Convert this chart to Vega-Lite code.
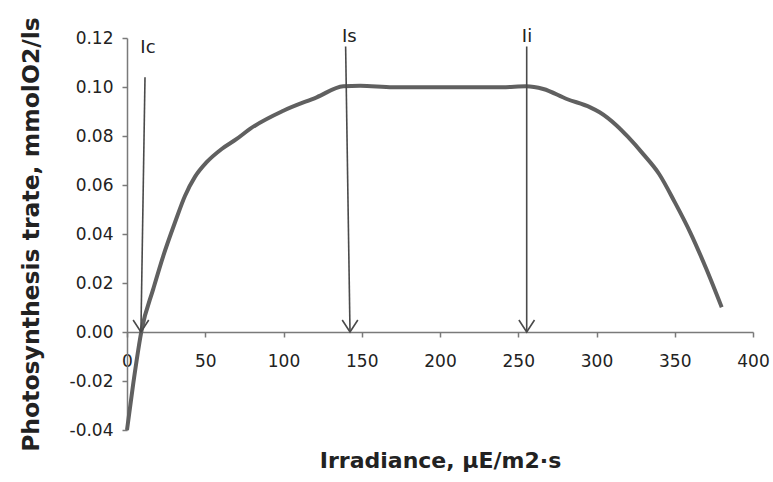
{
  "$schema": "https://vega.github.io/schema/vega-lite/v6.json",
  "width": 626,
  "height": 392,
  "autosize": "none",
  "padding": {"left": 127, "top": 38, "right": 20, "bottom": 52},
  "background": "white",
  "config": {
    "view": {"stroke": null},
    "font": "DejaVu Sans",
    "axis": {"grid": false, "domainColor": "#7a7a7a", "domainWidth": 1.5, "tickColor": "#7a7a7a", "tickWidth": 1.5, "labelFont": "DejaVu Sans", "labelColor": "#222", "titleFont": "DejaVu Sans", "titleColor": "#222", "labelFlush": false}
  },
  "datasets": {
    "curve": [
      {"irr": 0, "rate": -0.04},
      {"irr": 4, "rate": -0.021},
      {"irr": 9.4, "rate": 0.001},
      {"irr": 16.8, "rate": 0.0176},
      {"irr": 23.2, "rate": 0.0311},
      {"irr": 30.7, "rate": 0.0448},
      {"irr": 37.1, "rate": 0.0556},
      {"irr": 43.5, "rate": 0.0634},
      {"irr": 50.9, "rate": 0.0693},
      {"irr": 60.5, "rate": 0.0747},
      {"irr": 70.1, "rate": 0.0788},
      {"irr": 78.6, "rate": 0.0829},
      {"irr": 99.9, "rate": 0.0903},
      {"irr": 121.2, "rate": 0.0958},
      {"irr": 138.2, "rate": 0.1003},
      {"irr": 149, "rate": 0.1005},
      {"irr": 170, "rate": 0.0999},
      {"irr": 200, "rate": 0.0999},
      {"irr": 240, "rate": 0.0999},
      {"irr": 255, "rate": 0.1003},
      {"irr": 266, "rate": 0.0992},
      {"irr": 281, "rate": 0.0951},
      {"irr": 296, "rate": 0.0917},
      {"irr": 302, "rate": 0.0897},
      {"irr": 313, "rate": 0.0842},
      {"irr": 320, "rate": 0.0797},
      {"irr": 330, "rate": 0.0725},
      {"irr": 340, "rate": 0.0645},
      {"irr": 350, "rate": 0.053},
      {"irr": 360, "rate": 0.0405},
      {"irr": 370, "rate": 0.026},
      {"irr": 380, "rate": 0.0101}
    ],
    "arrows": [
      {"name": "Ic", "x0": 11.5, "y0": 0.104, "x1": 8.9, "y1": 0, "lx": 13.4, "ly": 0.1161},
      {"name": "Is", "x0": 139.7, "y0": 0.1165, "x1": 142.5, "y1": 0, "lx": 142.0, "ly": 0.1206},
      {"name": "Ii", "x0": 255.4, "y0": 0.1165, "x1": 255.4, "y1": 0, "lx": 255.6, "ly": 0.1206}
    ]
  },
  "layer": [
    {
      "data": {"name": "curve"},
      "mark": {"type": "line", "interpolate": "monotone", "color": "#606060", "strokeWidth": 4},
      "encoding": {
        "x": {
          "field": "irr", "type": "quantitative",
          "scale": {"domain": [0, 400], "nice": false},
          "axis": {
            "values": [0, 50, 100, 150, 200, 250, 300, 350, 400],
            "offset": -98,
            "tickSize": 5,
            "labelFontSize": 17,
            "labelPadding": 16,
            "labelBaseline": "top",
            "title": "Irradiance,  µE/m2·s",
            "titleFontSize": 22,
            "titleFontWeight": "bold",
            "titleBaseline": "alphabetic",
            "titleY": 135
          }
        },
        "y": {
          "field": "rate", "type": "quantitative",
          "scale": {"domain": [-0.04, 0.12], "nice": false, "zero": false},
          "axis": {
            "values": [-0.04, -0.02, 0, 0.02, 0.04, 0.06, 0.08, 0.1, 0.12],
            "labelExpr": "replace(format(datum.value, '.2f'), '\u2212', '-')",
            "tickSize": 5,
            "labelFontSize": 17,
            "labelPadding": 9,
            "title": "Photosynthesis trate, mmolO2/ls",
            "titleFontSize": 23.5,
            "titleFontWeight": "bold",
            "titleAngle": -90,
            "titleBaseline": "middle",
            "titleX": -96
          }
        }
      }
    },
    {
      "data": {"name": "arrows"},
      "mark": {"type": "rule", "color": "#4a4a4a", "strokeWidth": 1.6},
      "encoding": {
        "x": {"field": "x0", "type": "quantitative"},
        "y": {"field": "y0", "type": "quantitative"},
        "x2": {"field": "x1"},
        "y2": {"field": "y1"}
      }
    },
    {
      "data": {"name": "arrows"},
      "mark": {"type": "point", "shape": "M -0.65 -1 L 0 0 L 0.65 -1", "filled": false, "color": "#4a4a4a", "strokeWidth": 1.6, "size": 576, "opacity": 1},
      "encoding": {
        "x": {"field": "x1", "type": "quantitative"},
        "y": {"field": "y1", "type": "quantitative"}
      }
    },
    {
      "data": {"name": "arrows"},
      "mark": {"type": "text", "font": "DejaVu Sans", "fontSize": 18, "color": "#222", "align": "center", "baseline": "middle"},
      "encoding": {
        "x": {"field": "lx", "type": "quantitative"},
        "y": {"field": "ly", "type": "quantitative"},
        "text": {"field": "name"}
      }
    }
  ]
}
